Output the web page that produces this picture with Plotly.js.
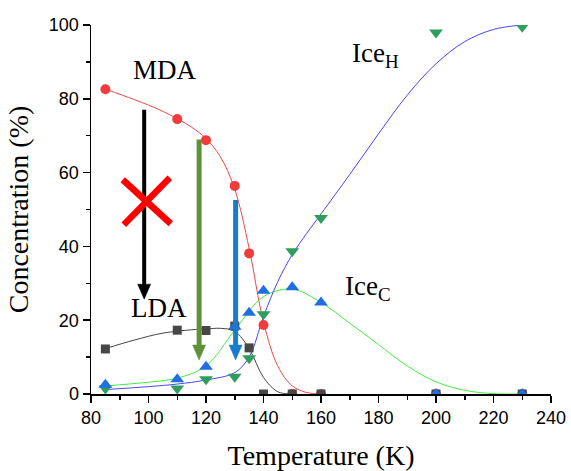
<!DOCTYPE html>
<html>
<head>
<meta charset="utf-8">
<script src="https://cdn.plot.ly/plotly-3.0.1.min.js"></script>
<style>html,body{margin:0;padding:0;background:#fff;}#chart{width:571px;height:471px;}</style>
</head>
<body>
<div id="chart"></div>
<script>
// Measured points
const temps = [85, 110, 120, 130, 135, 140, 150, 160, 200, 230];
const mda   = [82.6, 74.5, 68.8, 56.4, 38.1, 18.7, 0, 0, 0, 0];
const lda   = [12.2, 17.3, 17.2, 18.4, 12.5, 0, 0, 0, 0, 0];
const iceC  = [2.5, 4.0, 7.4, 18.2, 22.0, 28.0, 28.9, 24.8, 0, 0];
const iceH  = [1.5, 1.5, 4.0, 4.7, 9.7, 21.6, 38.7, 47.7, 98.0, 99.5];

// Fitted curves
const mdaFitT = [85, 95, 105, 115, 120, 125, 130, 135, 140, 145, 150, 155, 160];
const mdaFit  = [82.6, 79.8, 76.6, 72.3, 69.2, 64.3, 55.5, 39.5, 19.5, 7.5, 2.2, 0.4, 0];
const ldaFitT = [85, 95, 105, 115, 120, 125, 130, 135, 140, 145, 150];
const ldaFit  = [12.3, 14.6, 16.5, 17.4, 17.6, 17.8, 17.0, 12.3, 4.5, 0.6, 0];
const iceCFitT = [85, 100, 110, 120, 130, 140, 150, 160, 170, 180, 190, 200, 210, 220, 230];
const iceCFit  = [2.2, 3.2, 4.3, 7.6, 17.3, 26.4, 28.4, 24.8, 19.2, 13.4, 7.6, 3.3, 1, 0.1, 0];
const iceHFitT = [85, 100, 110, 120, 130, 135, 140, 145, 150, 155, 160, 170, 180, 190, 200, 210, 220, 230];
const iceHFit  = [1.2, 2, 2.7, 3.8, 5.8, 10, 21, 30.5, 37.8, 43.5, 48.8, 59.5, 70.5, 81, 89.5, 95.5, 98.8, 100];

// Arrows: x position, start value, tip value
const arrowX     = [98.5, 117.6, 130.3];
const arrowStart = [77, 69, 52.6];
const arrowTip   = [25.7, 9.2, 9.2];
const arrowColors = ['#000000', '#5f9238', '#1a7cc8'];
const arrowWidths = [4, 5, 5];

// Red cross centre
const crossX = 99.4, crossY = 52.1;

// Labels
const labelText = ['MDA', 'LDA', 'Ice<sub>H</sub>', 'Ice<sub>C</sub>'];
const labelX = [105.7, 103.7, 178.8, 176.5];
const labelY = [87.8, 23.3, 92.0, 28.8];

const xTicks = [80, 100, 120, 140, 160, 180, 200, 220, 240];
const yTicks = [0, 20, 40, 60, 80, 100];

const fitLine = (x, y, color) => ({x, y, mode: 'lines', line: {color, width: 1, shape: 'spline', smoothing: 1}, hoverinfo: 'skip'});
const pts = (y, symbol, color, size) => ({x: temps, y, mode: 'markers', marker: {symbol, color, size, line: {width: 0}}});

const traces = [
  fitLine(mdaFitT, mdaFit, '#f04848'),
  fitLine(ldaFitT, ldaFit, '#444444'),
  fitLine(iceCFitT, iceCFit, '#44ee44'),
  fitLine(iceHFitT, iceHFit, '#4646ff'),
  pts(mda, 'circle', '#f03c3c', 10),
  pts(lda, 'square', '#474747', 9),
  pts(iceH, 'triangle-down', '#2e9e5e', 12),
  pts(iceC, 'triangle-up', '#1f6fe0', 12)
];

const shapes = [];
arrowX.forEach((x, i) => {
  shapes.push({type: 'line', xref: 'x', yref: 'y', x0: x, x1: x, y0: arrowStart[i], y1: arrowTip[i] + 3,
    line: {color: arrowColors[i], width: arrowWidths[i]}});
  shapes.push({type: 'path', xref: 'x', yref: 'y', xsizemode: 'pixel', ysizemode: 'pixel',
    xanchor: x, yanchor: arrowTip[i], path: 'M-6.5,15 L6.5,15 L0,0 Z',
    fillcolor: arrowColors[i], line: {color: arrowColors[i], width: 0.5}});
});
shapes.push({type: 'line', xref: 'x', yref: 'y', xsizemode: 'pixel', ysizemode: 'pixel', xanchor: crossX, yanchor: crossY,
  x0: -24, x1: 24, y0: 22, y1: -22, line: {color: '#ff0000', width: 6.5}});
shapes.push({type: 'line', xref: 'x', yref: 'y', xsizemode: 'pixel', ysizemode: 'pixel', xanchor: crossX, yanchor: crossY,
  x0: 23, x1: -23, y0: 24, y1: -23, line: {color: '#ff0000', width: 6.5}});

const annotations = labelText.map((t, i) => ({x: labelX[i], y: labelY[i], xref: 'x', yref: 'y', text: t, showarrow: false,
  font: {family: 'Liberation Serif, Times New Roman, serif', size: 27, color: '#000'}}));

const axisCommon = {
  showline: true, linecolor: '#000', linewidth: 1.5, mirror: false,
  ticks: 'outside', ticklen: 7, tickwidth: 1.5, tickcolor: '#000',
  showgrid: false, zeroline: false,
  tickfont: {family: 'Liberation Sans, Arial, sans-serif', size: 18, color: '#000'}
};

const layout = {
  width: 571, height: 471,
  margin: {l: 91, r: 20, t: 25, b: 77},
  paper_bgcolor: '#fff', plot_bgcolor: '#fff',
  showlegend: false,
  xaxis: Object.assign({}, axisCommon, {
    range: [80, 240], tickvals: xTicks, ticktext: xTicks.map(String),
    minor: {ticks: 'outside', ticklen: 4, tickwidth: 1.5, tickcolor: '#000', dtick: 10, tick0: 90},
    title: {text: 'Temperature (K)', standoff: 18, font: {family: 'Liberation Serif, Times New Roman, serif', size: 28, color: '#000'}}
  }),
  yaxis: Object.assign({}, axisCommon, {
    range: [0, 100], tickvals: yTicks, ticktext: yTicks.map(String),
    minor: {ticks: 'outside', ticklen: 4, tickwidth: 1.5, tickcolor: '#000', dtick: 10, tick0: 10},
    title: {text: 'Concentration (%)', standoff: 12, font: {family: 'Liberation Serif, Times New Roman, serif', size: 28, color: '#000'}}
  }),
  shapes, annotations
};

Plotly.newPlot('chart', traces, layout, {staticPlot: true, displayModeBar: false});
</script>
</body>
</html>
